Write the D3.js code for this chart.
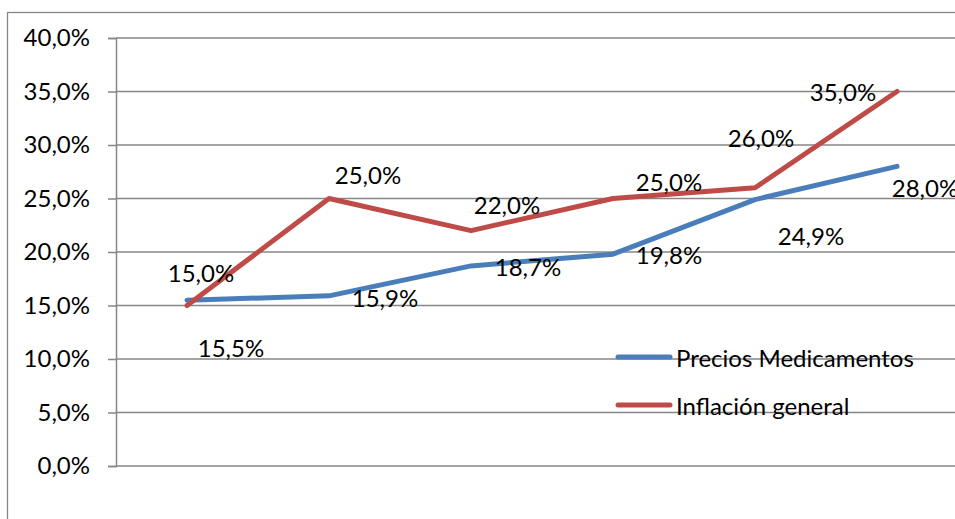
<!DOCTYPE html>
<html>
<head>
<meta charset="utf-8">
<script src="https://cdn.jsdelivr.net/npm/d3@7"></script>
<style>
  body { margin: 0; background: #fff; overflow: hidden; }
  svg { display: block; }
  text { font-family: Lato, "Open Sans", sans-serif; fill: #000; }
</style>
</head>
<body>
<svg id="chart"></svg>
<script>
// datos
var periodos = ["1", "2", "3", "4", "5", "6"]
var preciosMedicamentos = [15.5, 15.9, 18.7, 19.8, 24.9, 28.0]
var inflacionGeneral = [15.0, 25.0, 22.0, 25.0, 26.0, 35.0]
var yTicks = [0, 5, 10, 15, 20, 25, 30, 35, 40]
var seriesNames = ["Precios Medicamentos", "Inflación general"]
var seriesColors = ["#4a7ebb", "#be4b48"]

var dimensions = {
    width: 955,
    height: 519,
    margin: { top: 38, bottom: 53, left: 116, right: -13 }
}

var svg = d3.select("#chart")
    .attr("width", dimensions.width)
    .attr("height", dimensions.height)

// marco del area del grafico (sale por la derecha y abajo)
svg.append("rect")
    .attr("x", 7.5).attr("y", 12.5)
    .attr("width", 1000).attr("height", 600)
    .attr("fill", "none")
    .attr("stroke", "#868686")
    .attr("stroke-width", 1.3)

var xScale = d3.scaleBand()
    .domain(periodos)
    .range([dimensions.margin.left, dimensions.width - dimensions.margin.right])

var yScale = d3.scaleLinear()
    .domain([0, 40])
    .range([dimensions.height - dimensions.margin.bottom, dimensions.margin.top])

var fmt = v => d3.format(".1f")(v).replace(".", ",") + "%"

// eje y con lineas de division
var yAxis = svg.append("g")
    .attr("transform", `translate(${dimensions.margin.left},0)`)
    .call(d3.axisLeft(yScale)
        .tickValues(yTicks)
        .tickSize(8)
        .tickPadding(18)
        .tickFormat(fmt))
yAxis.select(".domain").attr("stroke", "#868686").attr("stroke-width", 1.5)
yAxis.selectAll("line").attr("stroke", "#868686").attr("stroke-width", 1.5)
yAxis.selectAll("text")
    .style("font-size", "24px")
    .style("font-family", "Lato, sans-serif")

svg.append("g")
    .selectAll("line")
    .data(yTicks)
    .enter()
    .append("line")
    .attr("x1", dimensions.margin.left)
    .attr("x2", dimensions.width + 20)
    .attr("y1", d => yScale(d))
    .attr("y2", d => yScale(d))
    .attr("stroke", "#868686")
    .attr("stroke-width", 1.5)

var cx = d => xScale(d) + xScale.bandwidth() / 2

var lineGen = d3.line()
    .x((d, i) => cx(periodos[i]))
    .y(d => yScale(d))

var allSeries = [preciosMedicamentos, inflacionGeneral]

svg.append("g")
    .selectAll("path")
    .data(allSeries)
    .enter()
    .append("path")
    .attr("d", lineGen)
    .attr("fill", "none")
    .attr("stroke", (d, i) => seriesColors[i])
    .attr("stroke-width", 5)
    .attr("stroke-linejoin", "round")
    .attr("stroke-linecap", "round")

// desplazamientos de las etiquetas (como las coloca Excel)
var labelOffsets = [
    [[44, 47], [56, 2], [57, 1], [56, 0], [56, 36], [28, 21]],
    [[14, -33], [39, -24], [36, -26], [56, -17], [6, -50], [-54, 0]]
]

allSeries.forEach(function (serie, s) {
    svg.append("g")
        .selectAll("text")
        .data(serie)
        .enter()
        .append("text")
        .attr("x", (d, i) => cx(periodos[i]) + labelOffsets[s][i][0])
        .attr("y", (d, i) => yScale(d) + labelOffsets[s][i][1])
        .attr("text-anchor", "middle")
        .attr("dominant-baseline", "central")
        .style("font-size", "24px")
        .text(fmt)
})

// leyenda
var legend = svg.append("g")
    .selectAll("g")
    .data(seriesNames)
    .enter()
    .append("g")
    .attr("transform", (d, i) => `translate(618,${357 + i * 48})`)

legend.append("line")
    .attr("x1", 0).attr("x2", 52)
    .attr("stroke", (d, i) => seriesColors[i])
    .attr("stroke-width", 5)
    .attr("stroke-linecap", "round")

legend.append("text")
    .attr("x", 58)
    .attr("dominant-baseline", "central")
    .style("font-size", "24px")
    .text(d => d)
</script>
</body>
</html>
